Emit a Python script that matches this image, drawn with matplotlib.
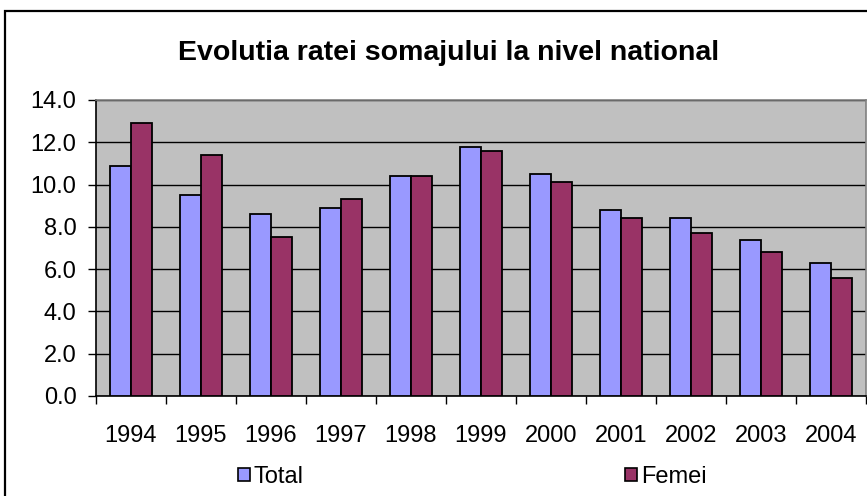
import matplotlib
matplotlib.use("Agg")
import matplotlib.pyplot as plt
import numpy as np
from matplotlib.patches import Rectangle, Patch

years = ["1994", "1995", "1996", "1997", "1998", "1999", "2000", "2001", "2002", "2003", "2004"]
total = [10.9, 9.5, 8.6, 8.9, 10.4, 11.8, 10.5, 8.8, 8.4, 7.4, 6.3]
femei = [12.9, 11.4, 7.5, 9.3, 10.4, 11.6, 10.1, 8.4, 7.7, 6.8, 5.6]

plt.rcParams['font.family'] = ['Liberation Sans', 'DejaVu Sans']

W, H = 867, 496
fig = plt.figure(figsize=(W / 100, H / 100), dpi=100)
fig.patch.set_facecolor('white')

# outer chart border
fig.patches.append(Rectangle((5 / W, -0.1), 1.2, 1 - 11 / H + 0.1, transform=fig.transFigure,
                             fill=False, edgecolor='black', linewidth=1.6, clip_on=False))

ax = fig.add_axes([96 / W, 1 - 396 / H, (866 - 96) / W, (396 - 100) / H])
ax.set_facecolor('#C0C0C0')

x = np.arange(len(years))
bw = 0.3
ax.bar(x - bw / 2, total, bw, color='#9999FF', edgecolor='black', linewidth=1.3, label='Total', zorder=3)
ax.bar(x + bw / 2, femei, bw, color='#993366', edgecolor='black', linewidth=1.3, label='Femei', zorder=3)

ax.set_xlim(-0.5, len(years) - 0.5)
ax.set_ylim(0, 14)
ax.set_yticks(np.arange(0, 14.1, 2))
ax.set_yticklabels([f"{v:.1f}" for v in np.arange(0, 14.1, 2)], fontsize=17)
ax.yaxis.grid(True, color='black', linewidth=1.0, zorder=1)
ax.set_axisbelow(True)

ax.set_xticks(x)
ax.set_xticklabels(years, fontsize=17)
ax.tick_params(axis='x', which='major', length=0, pad=21)
ax.set_xticks(np.arange(-0.5, len(years), 1), minor=True)
ax.tick_params(axis='x', which='minor', length=6, width=1, color='black')
ax.tick_params(axis='y', length=6, width=1, pad=8)

for s in ['top', 'right']:
    ax.spines[s].set_color('#808080')
    ax.spines[s].set_linewidth(1.2)
for s in ['left', 'bottom']:
    ax.spines[s].set_color('black')
    ax.spines[s].set_linewidth(1.2)

fig.text(449 / W, 1 - 53 / H, "Evolutia ratei somajului la nivel national", ha='center', va='center',
         fontsize=20.5, fontweight='bold')

handles = [Patch(facecolor='#9999FF', edgecolor='black', linewidth=1.2),
           Patch(facecolor='#993366', edgecolor='black', linewidth=1.2)]
leg = fig.legend(handles, ['Total', 'Femei'], ncol=2, loc='center left',
                 bbox_to_anchor=(238 / W, 1 - 477 / H), frameon=False, fontsize=17,
                 handlelength=0.5, handleheight=0.5, handletextpad=0.17, columnspacing=13.6,
                 borderpad=0, borderaxespad=0)

fig.savefig("out.png", dpi=100)
